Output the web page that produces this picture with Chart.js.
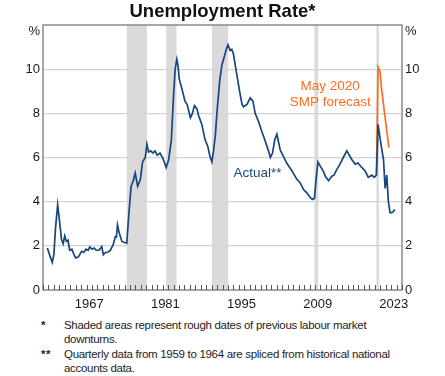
<!DOCTYPE html>
<html lang="en">
<head>
<meta charset="UTF-8">
<title>Unemployment Rate</title>
<script src="https://cdn.jsdelivr.net/npm/chart.js"></script>
<style>
  body { margin: 0; background: #fff; font-family: "Liberation Sans", Arial, sans-serif; }
  #wrap { width: 445px; height: 376px; position: relative; overflow: hidden; }
  canvas { display: block; }
  .notes { position: absolute; left: 0; top: 318px; font-size: 11.5px; color: #222; line-height: 14.3px; letter-spacing: -0.3px; }
  .note { position: relative; padding-left: 64px; white-space: nowrap; }
  .note .mk { position: absolute; left: 41px; font-weight: bold; letter-spacing: 0.5px; }
</style>
</head>
<body>
<div id="wrap">
  <canvas id="chart" width="445" height="317"></canvas>
  <div class="notes">
    <div class="note"><span class="mk">*</span>Shaded areas represent rough dates of previous labour market<br>downturns.</div>
    <div class="note"><span class="mk">**</span>Quarterly data from 1959 to 1964 are spliced from historical national<br>accounts data.</div>
  </div>
</div>
<script>
// Actual unemployment rate, %
const actualYears = [
  1959.8, 1960.2, 1960.7, 1961.0, 1961.3, 1961.7, 1962.0, 1962.4, 1962.7, 1963.0,
  1963.3, 1963.6, 1963.9, 1964.3, 1964.7, 1965.0, 1965.5, 1966.1, 1966.5, 1966.9,
  1967.3, 1967.6, 1968.0, 1968.4, 1968.8, 1969.3, 1969.8, 1970.1, 1970.5, 1971.0,
  1971.4, 1971.9, 1972.3, 1972.5, 1972.7, 1973.0, 1973.5, 1974.0, 1974.4, 1974.8,
  1975.2, 1975.6, 1975.95, 1976.4, 1976.9, 1977.3, 1977.8, 1978.1, 1978.4, 1978.8,
  1979.2, 1979.6, 1980.0, 1980.5, 1980.97, 1981.3, 1981.65, 1982.1, 1982.6, 1983.0,
  1983.3, 1983.6, 1983.8, 1984.05, 1984.5, 1985.1, 1985.5, 1986.1, 1986.4, 1986.85,
  1987.3, 1987.6, 1988.2, 1988.8, 1989.3, 1989.7, 1990.05, 1990.35, 1990.7, 1991.0,
  1991.5, 1991.9, 1992.2, 1992.7, 1993.0, 1993.4, 1993.7, 1994.0, 1994.6, 1995.25,
  1995.6, 1995.85, 1996.5, 1997.1, 1997.6, 1998.0, 1998.6, 1999.2, 1999.85, 2000.45,
  2000.8, 2001.2, 2001.6, 2002.0, 2002.6, 2003.2, 2003.8, 2004.75, 2005.7, 2006.3,
  2006.9, 2007.5, 2008.1, 2008.5, 2008.9, 2009.2, 2009.55, 2010.0, 2010.6, 2010.9,
  2011.5, 2012.1, 2012.5, 2013.0, 2013.6, 2014.2, 2014.85, 2015.2, 2015.8, 2016.4,
  2016.9, 2017.6, 2018.2, 2018.8, 2019.45, 2019.9, 2020.3, 2020.6, 2020.95, 2021.3,
  2021.6, 2021.9, 2022.2, 2022.5, 2022.8, 2023.1, 2023.4, 2023.7
];
const actualRates = [
  1.9, 1.6, 1.25, 1.6, 2.8, 3.86, 3.2, 2.3, 2.1, 2.45,
  2.2, 2.25, 1.8, 1.85, 1.6, 1.45, 1.5, 1.75, 1.7, 1.85,
  1.8, 1.95, 1.85, 1.9, 1.8, 1.8, 1.97, 1.6, 1.7, 1.72,
  1.8, 2.05, 2.42, 2.4, 2.95, 2.6, 2.2, 2.15, 2.12, 3.5,
  4.7, 4.95, 5.3, 4.7, 5.0, 5.8, 6.0, 6.6, 6.25, 6.3,
  6.2, 6.3, 6.1, 6.2, 6.0, 5.8, 5.55, 5.9, 6.8, 8.8,
  10.0, 10.45, 10.2, 9.55, 9.15, 8.55, 8.4, 7.8, 7.95, 8.35,
  8.2, 7.9, 7.5, 6.8, 6.5, 6.05, 5.8, 6.3, 7.05, 8.1,
  9.5, 10.2, 10.45, 10.9, 11.1, 10.85, 10.9, 10.7, 9.8, 8.85,
  8.4, 8.3, 8.4, 8.7, 8.55, 8.0, 7.65, 7.2, 6.75, 6.3,
  6.0, 6.2, 6.8, 7.05, 6.35, 6.05, 5.75, 5.4, 5.0, 4.85,
  4.55, 4.4, 4.2, 4.1, 4.15, 5.0, 5.8, 5.6, 5.35, 5.15,
  4.95, 5.15, 5.2, 5.45, 5.7, 6.0, 6.3, 6.15, 5.9, 5.7,
  5.75, 5.55, 5.4, 5.1, 5.2, 5.1, 5.2, 7.5, 6.9, 6.35,
  5.9, 4.6, 5.2, 4.0, 3.5, 3.5, 3.55, 3.65
];

// May 2020 SMP forecast, %
const forecastYears = [2020.3, 2020.6, 2020.95, 2021.25, 2021.75, 2022.25, 2022.6];
const forecastRates = [5.2, 10.1, 9.9, 9.1, 8.1, 7.1, 6.45];

// shaded downturns
const shadeStarts = [1974.4, 1981.65, 1990.05, 2008.9, 2020.3];
const shadeEnds = [1978.1, 1983.55, 1993.05, 2009.6, 2020.75];

const labelYears = [1967, 1981, 1995, 2009, 2023];
const yTickValues = [0, 2, 4, 6, 8, 10, 11.7];
const firstYear = 1959;
const lastYear = 2025;

const FONT = '"Liberation Sans", Arial, sans-serif';
const BLUE = '#17477f';
const ORANGE = '#ff6d1f';

const toPoints = (xs, ys) => xs.map((x, i) => ({ x: x, y: ys[i] }));

const shadePlugin = {
  id: 'shades',
  beforeDraw(chart) {
    const { ctx, chartArea, scales } = chart;
    ctx.save();
    ctx.fillStyle = '#dadada';
    shadeStarts.forEach((s, i) => {
      const x1 = scales.x.getPixelForValue(s);
      const x2 = scales.x.getPixelForValue(shadeEnds[i]);
      ctx.fillRect(x1, chartArea.top, x2 - x1, chartArea.bottom - chartArea.top);
    });
    ctx.restore();
  }
};

const framePlugin = {
  id: 'frame',
  afterDraw(chart) {
    const { ctx, chartArea, scales } = chart;
    ctx.save();

    ctx.strokeStyle = '#8a8a8a';
    ctx.lineWidth = 1.5;
    ctx.strokeRect(chartArea.left, chartArea.top, chartArea.right - chartArea.left, chartArea.bottom - chartArea.top);

    // yearly tick marks, pointing up into the plot
    ctx.fillStyle = '#555555';
    const bottom = Math.round(chartArea.bottom);
    for (let yr = firstYear; yr <= lastYear; yr++) {
      const x = Math.round(scales.x.getPixelForValue(yr));
      ctx.fillRect(x, bottom - 5, 1, 5);
    }

    // series labels
    ctx.font = '13.5px ' + FONT;
    ctx.textBaseline = 'middle';
    ctx.fillStyle = BLUE;
    ctx.textAlign = 'left';
    ctx.fillText('Actual**', scales.x.getPixelForValue(1994.0), scales.y.getPixelForValue(5.27));
    ctx.fillStyle = ORANGE;
    ctx.textAlign = 'center';
    ctx.fillText('May 2020', scales.x.getPixelForValue(2011.8), scales.y.getPixelForValue(9.23));
    ctx.fillText('SMP forecast', scales.x.getPixelForValue(2011.8), scales.y.getPixelForValue(8.5));
    ctx.restore();
  }
};

const yTicks = {
  font: { family: FONT, size: 13 },
  color: '#1a1a1a',
  padding: 3,
  callback: (v) => (v === 11.7 ? '%' : v)
};

new Chart(document.getElementById('chart'), {
  type: 'line',
  data: {
    datasets: [
      {
        label: 'Actual',
        data: toPoints(actualYears, actualRates),
        borderColor: BLUE,
        borderWidth: 1.7,
        pointRadius: 0,
        tension: 0,
        yAxisID: 'y'
      },
      {
        label: 'May 2020 SMP forecast',
        data: toPoints(forecastYears, forecastRates),
        borderColor: ORANGE,
        borderWidth: 1.7,
        pointRadius: 0,
        tension: 0,
        yAxisID: 'y'
      }
    ]
  },
  options: {
    responsive: false,
    animation: false,
    layout: { padding: 0 },
    plugins: {
      legend: { display: false },
      tooltip: { enabled: false },
      title: {
        display: true,
        text: 'Unemployment Rate*',
        color: '#111',
        font: { family: FONT, size: 18.5, weight: 'bold', lineHeight: 1 },
        padding: { top: 3, bottom: 3.5 }
      }
    },
    scales: {
      x: {
        type: 'linear',
        min: firstYear,
        max: lastYear,
        afterBuildTicks: (axis) => {
          const t = [];
          for (let yr = firstYear; yr <= lastYear; yr++) t.push({ value: yr });
          axis.ticks = t;
        },
        afterFit: (axis) => { axis.height = 27; },
        border: { display: false },
        grid: { display: false, drawOnChartArea: false, drawTicks: false },
        ticks: {
          autoSkip: false,
          maxRotation: 0,
          labelOffset: 2.7,
          padding: 7,
          font: { family: FONT, size: 13 },
          color: '#1a1a1a',
          callback: (v) => (labelYears.includes(v) ? String(v) : '')
        }
      },
      y: {
        position: 'left',
        min: 0,
        max: 12,
        afterBuildTicks: (axis) => { axis.ticks = yTickValues.map(v => ({ value: v })); },
        afterFit: (axis) => { axis.width = 43; },
        border: { display: false },
        grid: {
          drawTicks: false,
          lineWidth: 1.2,
          color: (c) => (c.tick && c.tick.value > 0 && c.tick.value <= 10 ? '#d4d4d4' : 'rgba(0,0,0,0)')
        },
        ticks: yTicks
      },
      y2: {
        position: 'right',
        min: 0,
        max: 12,
        afterBuildTicks: (axis) => { axis.ticks = yTickValues.map(v => ({ value: v })); },
        afterFit: (axis) => { axis.width = 43; },
        border: { display: false },
        grid: { display: false, drawTicks: false },
        ticks: yTicks
      }
    }
  },
  plugins: [shadePlugin, framePlugin]
});
</script>
</body>
</html>
